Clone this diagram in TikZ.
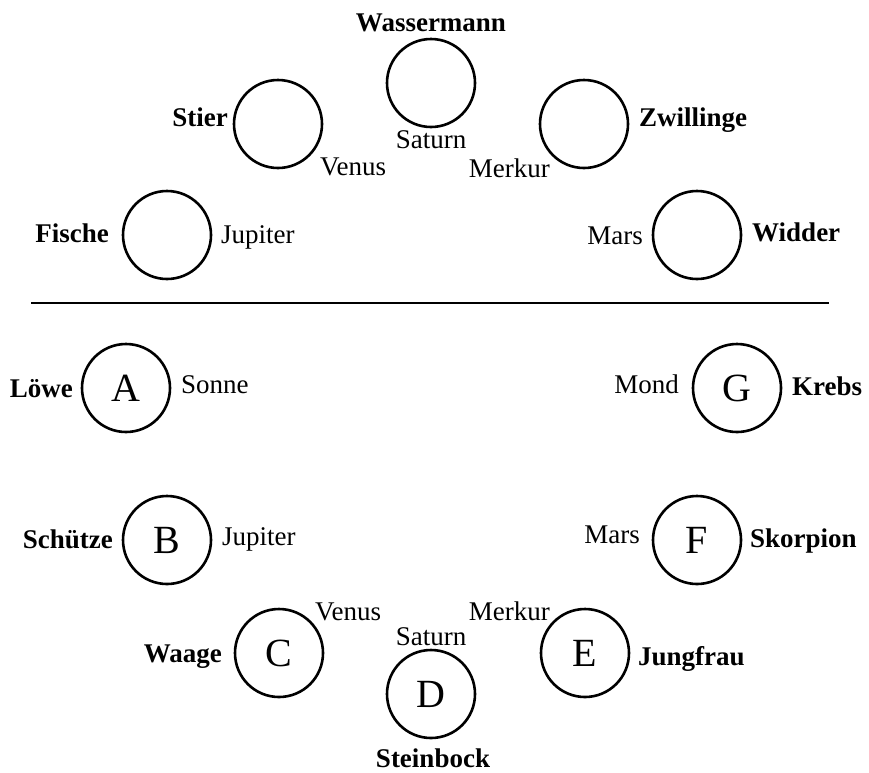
\documentclass[tikz,border=0pt]{standalone}
\usepackage{fontspec}
\setmainfont{Liberation Serif}
\begin{document}
\begin{tikzpicture}[x=1pt,y=-1pt,
  zod/.style={draw, circle, line width=2.6pt, minimum size=88pt, inner sep=0pt, font=\fontsize{40}{42}\selectfont},
  sign/.style={font=\fontsize{27}{30}\selectfont\bfseries, inner sep=0pt},
  planet/.style={font=\fontsize{27}{30}\selectfont, inner sep=0pt},
  rule/.style={line width=2.6pt}]
\useasboundingbox (0,0) rectangle (869,772);
% upper half
\node[zod] (wa) at (431,83) {};
\node[zod] (st) at (278,124) {};
\node[zod] (zw) at (584,124) {};
\node[zod] (fi) at (167,235) {};
\node[zod] (wi) at (697,235) {};
\node[sign, anchor=base] (lwa) at (431,31) {Wassermann};
\node[sign, anchor=base east] (lst) at (228,126) {Stier};
\node[sign, anchor=base west] (lzw) at (639,126) {Zwillinge};
\node[sign, anchor=base east] (lfi) at (109,242) {Fische};
\node[sign, anchor=base west] (lwi) at (752,241) {Widder};
\node[planet, anchor=base] (psa) at (431,148) {Saturn};
\node[planet, anchor=base west] (pve) at (320,175) {Venus};
\node[planet, anchor=base east] (pme) at (550,177) {Merkur};
\node[planet, anchor=base west] (pju) at (221,243) {Jupiter};
\node[planet, anchor=base east] (pma) at (643,244) {Mars};
% rule
\coordinate (r1) at (31,303);
\coordinate (r2) at (829,303);
\draw[rule] (r1) -- (r2);
% lower half
\node[zod] (A) at (126,388) {A};
\node[zod] (G) at (737,388) {G};
\node[zod] (B) at (167,540) {B};
\node[zod] (F) at (697,540) {F};
\node[zod] (C) at (279,653) {C};
\node[zod] (E) at (585,653) {E};
\node[zod] (D) at (431,694) {D};
\node[sign, anchor=base east] (llo) at (73,397) {Löwe};
\node[sign, anchor=base west] (lkr) at (792,395) {Krebs};
\node[sign, anchor=base east] (lsc) at (113,548) {Schütze};
\node[sign, anchor=base west] (lsk) at (750,547) {Skorpion};
\node[sign, anchor=base east] (lwg) at (222,662) {Waage};
\node[sign, anchor=base west] (lju) at (638,665) {Jungfrau};
\node[sign, anchor=base] (lsb) at (433,767) {Steinbock};
\node[planet, anchor=base west] (qso) at (181,393) {Sonne};
\node[planet, anchor=base east] (qmo) at (679,393) {Mond};
\node[planet, anchor=base west] (qju) at (222,545) {Jupiter};
\node[planet, anchor=base east] (qma) at (640,543) {Mars};
\node[planet, anchor=base west] (qve) at (315,620) {Venus};
\node[planet, anchor=base east] (qme) at (550,620) {Merkur};
\node[planet, anchor=base] (qsa) at (431,645) {Saturn};
\end{tikzpicture}
\end{document}
